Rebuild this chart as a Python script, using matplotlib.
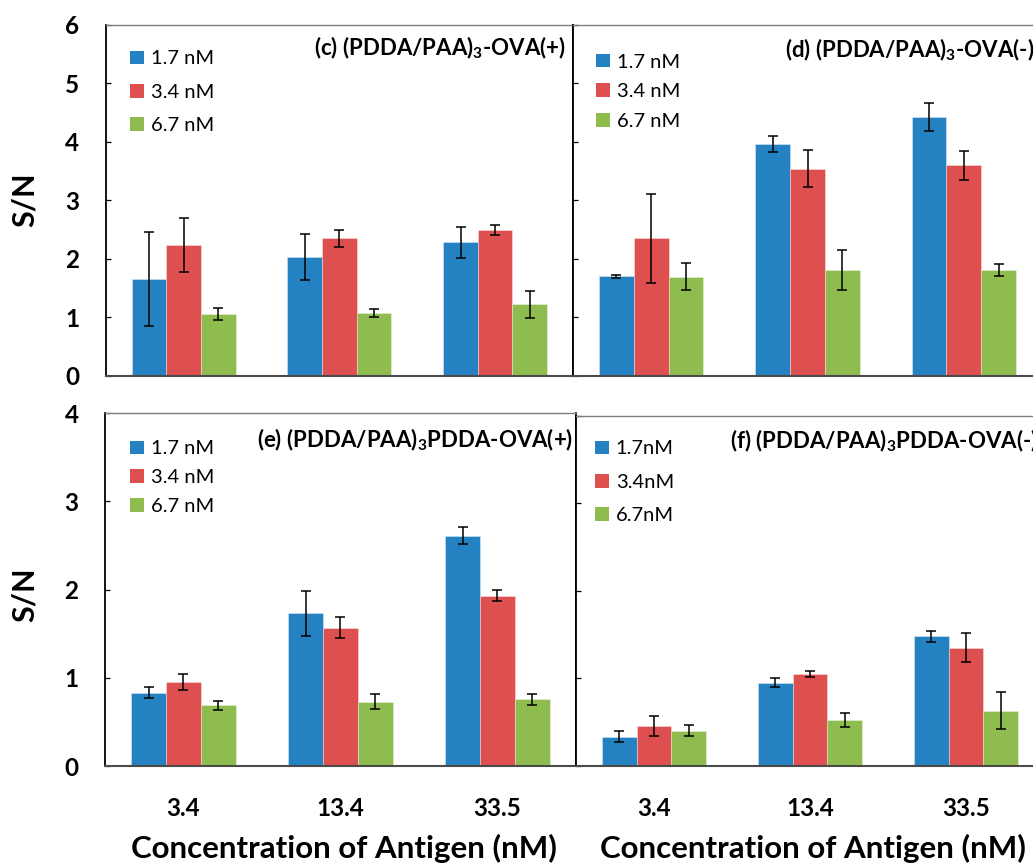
import matplotlib
matplotlib.use('Agg')
import matplotlib.pyplot as plt
import numpy as np

plt.rcParams['font.family'] = ['Lato', 'DejaVu Sans']
plt.rcParams['mathtext.fontset'] = 'custom'
plt.rcParams['mathtext.bf'] = 'Lato:bold'
plt.rcParams['mathtext.rm'] = 'Lato'

# ---------------- data ----------------
categories = ['3.4', '13.4', '33.5']
labels_cde = ['1.7 nM', '3.4 nM', '6.7 nM']
labels_f = ['1.7nM', '3.4nM', '6.7nM']
colors = ['#2481C2', '#DE4F4F', '#8EBC4F']

# panel (c) (PDDA/PAA)3-OVA(+)
c_17 = [1.65, 2.03, 2.28]
c_34 = [2.24, 2.35, 2.49]
c_67 = [1.05, 1.07, 1.22]
c_17_err = [0.80, 0.40, 0.27]
c_34_err = [0.46, 0.15, 0.085]
c_67_err = [0.10, 0.07, 0.23]

# panel (d) (PDDA/PAA)3-OVA(-)
d_17 = [1.70, 3.96, 4.43]
d_34 = [2.35, 3.54, 3.60]
d_67 = [1.69, 1.81, 1.81]
d_17_err = [0.03, 0.14, 0.235]
d_34_err = [0.76, 0.32, 0.245]
d_67_err = [0.23, 0.34, 0.10]

# panel (e) (PDDA/PAA)3PDDA-OVA(+)
e_17 = [0.83, 1.73, 2.61]
e_34 = [0.955, 1.565, 1.93]
e_67 = [0.69, 0.73, 0.755]
e_17_err = [0.065, 0.255, 0.10]
e_34_err = [0.09, 0.12, 0.065]
e_67_err = [0.05, 0.085, 0.065]

# panel (f) (PDDA/PAA)3PDDA-OVA(-)
f_17 = [0.335, 0.95, 1.48]
f_34 = [0.46, 1.05, 1.35]
f_67 = [0.405, 0.53, 0.63]
f_17_err = [0.065, 0.05, 0.067]
f_34_err = [0.115, 0.038, 0.165]
f_67_err = [0.06, 0.08, 0.21]

# ---------------- figure ----------------
W, H = 1033, 865
fig = plt.figure(figsize=(W / 100, H / 100), dpi=100)


def px_axes(l, t, r, b):
    return fig.add_axes([l / W, 1 - b / H, (r - l) / W, (b - t) / H])


def fx(x):
    return x / W


def fy(y):
    return 1 - y / H


panels = [
    dict(box=(105.7, 25, 573, 375.7), vals=[c_17, c_34, c_67], errs=[c_17_err, c_34_err, c_67_err],
         ymax=6, ticklabels=True, labels=labels_cde,
         title='(c) (PDDA/PAA)$_\\mathbf{3}$-OVA(+)', tpos=(566, 48),
         leg=(130, 50.5), legsp=0.81, xlab=False),
    dict(box=(573, 25, 1042, 375.7), vals=[d_17, d_34, d_67], errs=[d_17_err, d_34_err, d_67_err],
         ymax=6, ticklabels=False, labels=labels_cde,
         title='(d) (PDDA/PAA)$_\\mathbf{3}$-OVA(-)', tpos=(1034, 50),
         leg=(596, 53.5), legsp=0.63, xlab=False),
    dict(box=(105, 413, 576, 766), vals=[e_17, e_34, e_67], errs=[e_17_err, e_34_err, e_67_err],
         ymax=4, ticklabels=True, labels=labels_cde,
         title='(e) (PDDA/PAA)$_\\mathbf{3}$PDDA-OVA(+)', tpos=(573, 440),
         leg=(130, 440.5), legsp=0.58, xlab=True),
    dict(box=(576, 415.7, 1044, 766), vals=[f_17, f_34, f_67], errs=[f_17_err, f_34_err, f_67_err],
         ymax=4, ticklabels=False, labels=labels_f,
         title='(f) (PDDA/PAA)$_\\mathbf{3}$PDDA-OVA(-)', tpos=(1038, 441),
         leg=(595, 440.5), legsp=0.81, xlab=True),
]

x = np.arange(len(categories))
bw = 1 / 4.5

for p in panels:
    ax = px_axes(*p['box'])
    handles = []
    for i in range(3):
        bars = ax.bar(x + (i - 1) * bw, p['vals'][i], bw, yerr=p['errs'][i],
                      color=colors[i], edgecolor=(1, 1, 1, 0.35), linewidth=0.7,
                      capsize=3.6, error_kw=dict(elinewidth=1.1, capthick=1.1, ecolor='black'),
                      label=p['labels'][i], zorder=2)
        handles.append(bars)
    ax.set_xlim(-0.5, 2.5)
    ax.set_ylim(0, p['ymax'])
    ax.set_yticks(range(p['ymax'] + 1))
    ax.set_xticks(x)
    if p['xlab']:
        ax.set_xticklabels(categories, fontsize=17.5, fontweight='bold')
    else:
        ax.set_xticklabels([])
    ax.tick_params(axis='x', length=0, pad=22)
    ax.tick_params(axis='y', direction='in', length=3.6, width=0.9, color='black', pad=19)
    if p['ticklabels']:
        ax.set_yticklabels([str(v) for v in range(p['ymax'] + 1)], fontsize=17.5,
                           fontweight='bold')
    else:
        ax.set_yticklabels([])
    ax.spines['left'].set_color('black')
    ax.spines['left'].set_linewidth(1.3)
    ax.spines['bottom'].set_color('#4a4a4a')
    ax.spines['bottom'].set_linewidth(1.5)
    ax.spines['top'].set_color('#7f7f7f')
    ax.spines['top'].set_linewidth(1.0)
    ax.spines['right'].set_color('black')
    ax.spines['right'].set_linewidth(1.3)

    leg = ax.legend(handles=handles, loc='upper left',
                    bbox_to_anchor=(fx(p['leg'][0]), fy(p['leg'][1])),
                    bbox_transform=fig.transFigure, frameon=False, borderpad=0,
                    borderaxespad=0, handlelength=0.68, handleheight=0.68,
                    handletextpad=0.35, labelspacing=p['legsp'], fontsize=14.5)
    for h in leg.legend_handles:
        h.set_edgecolor('none')

    fig.text(fx(p['tpos'][0]), fy(p['tpos'][1]), p['title'], ha='right', va='center',
             fontsize=16, fontweight='bold')

    if p['xlab']:
        l, t, r, b = p['box']
        fig.text(fx((l + r) / 2 + 3), fy(848), 'Concentration of Antigen (nM)',
                 ha='center', va='center', fontsize=22.5, fontweight='bold')

# y-axis labels
fig.text(fx(25), fy(200), 'S/N', rotation=90, ha='center', va='center',
         fontsize=22, fontweight='bold')
fig.text(fx(25), fy(595), 'S/N', rotation=90, ha='center', va='center',
         fontsize=22, fontweight='bold')

fig.savefig('out.png', dpi=100)
